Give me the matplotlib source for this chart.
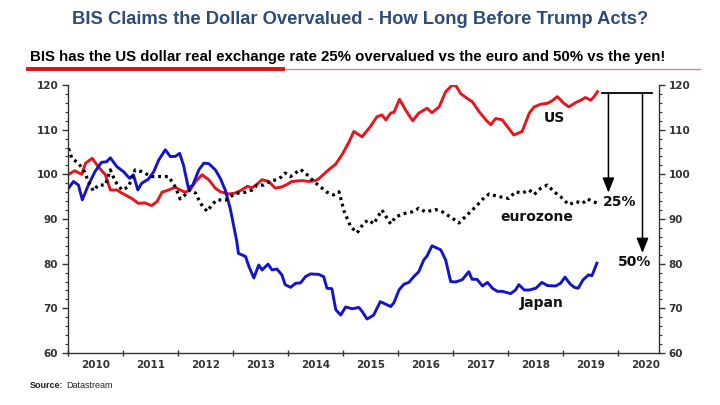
import matplotlib
matplotlib.use("Agg")
import matplotlib.pyplot as plt
from matplotlib.ticker import MultipleLocator, FixedLocator, NullFormatter
from matplotlib.lines import Line2D

# real exchange rate indices (decimal years)
us_t = [2010.01, 2010.12, 2010.25, 2010.32, 2010.44, 2010.55, 2010.68, 2010.77, 2010.89, 2010.98,
        2011.07, 2011.16, 2011.28, 2011.40, 2011.52, 2011.62, 2011.71, 2011.83, 2011.95, 2012.04,
        2012.13, 2012.22, 2012.32, 2012.44, 2012.56, 2012.68, 2012.77, 2012.92, 2013.04, 2013.16,
        2013.26, 2013.35, 2013.44, 2013.53, 2013.65, 2013.77, 2013.89, 2013.98, 2014.07, 2014.26,
        2014.38, 2014.50, 2014.56, 2014.74, 2014.87, 2014.99, 2015.11, 2015.20, 2015.35, 2015.50,
        2015.62, 2015.71, 2015.78, 2015.87, 2015.93, 2016.03, 2016.14, 2016.27, 2016.38, 2016.53,
        2016.62, 2016.75, 2016.87, 2016.99, 2017.06, 2017.14, 2017.26, 2017.35, 2017.48, 2017.60,
        2017.69, 2017.78, 2017.90, 2017.99, 2018.11, 2018.26, 2018.39, 2018.48, 2018.60, 2018.72,
        2018.81, 2018.90, 2019.02, 2019.11, 2019.24, 2019.33, 2019.41, 2019.51, 2019.57, 2019.63]
us_v = [100.0, 100.8, 100.0, 102.5, 103.6, 101.7, 99.9, 96.5, 96.5, 95.8,
        95.2, 94.6, 93.5, 93.6, 93.0, 93.9, 96.0, 96.5, 97.1, 96.5,
        96.0, 96.5, 98.4, 99.9, 98.8, 96.9, 96.1, 95.6, 95.8, 96.5,
        97.3, 97.0, 97.8, 98.8, 98.4, 96.9, 97.2, 97.7, 98.4, 98.6,
        98.4, 98.6, 99.0, 101.0, 102.3, 104.5, 107.2, 109.6, 108.4, 110.7,
        112.9, 113.3, 112.2, 113.7, 113.9, 116.8, 114.4, 112.0, 113.7, 114.8,
        113.8, 115.1, 118.5, 120.0, 119.8, 118.1, 117.0, 116.3, 114.0, 112.2,
        111.1, 112.5, 112.2, 110.7, 108.8, 109.6, 113.7, 115.1, 115.7, 115.9,
        116.5, 117.4, 115.9, 115.1, 116.1, 116.6, 117.2, 116.6, 117.4, 118.5]

ez_t = [2010.01, 2010.07, 2010.19, 2010.30, 2010.37, 2010.46, 2010.55, 2010.68, 2010.77, 2010.86,
        2010.98, 2011.10, 2011.22, 2011.34, 2011.52, 2011.65, 2011.83, 2011.95, 2012.04, 2012.13,
        2012.22, 2012.32, 2012.41, 2012.53, 2012.62, 2012.71, 2012.86, 2012.98, 2013.10, 2013.23,
        2013.35, 2013.44, 2013.56, 2013.68, 2013.80, 2013.89, 2013.95, 2014.05, 2014.17, 2014.23,
        2014.35, 2014.47, 2014.59, 2014.71, 2014.83, 2014.93, 2015.02, 2015.14, 2015.26, 2015.38,
        2015.47, 2015.56, 2015.71, 2015.87, 2015.96, 2016.14, 2016.26, 2016.38, 2016.50, 2016.69,
        2016.81, 2016.99, 2017.11, 2017.26, 2017.42, 2017.54, 2017.66, 2017.84, 2018.02, 2018.14,
        2018.26, 2018.39, 2018.48, 2018.60, 2018.72, 2018.84, 2018.96, 2019.11, 2019.24, 2019.36,
        2019.45, 2019.54, 2019.62]
ez_v = [105.8, 103.6, 102.5, 100.6, 98.4, 96.3, 97.6, 97.6, 101.0, 98.4,
        96.5, 97.2, 101.0, 100.6, 99.5, 99.5, 99.5, 97.2, 94.5, 95.4,
        96.5, 95.8, 93.5, 91.7, 93.2, 94.3, 94.2, 95.2, 95.8, 96.0,
        96.5, 97.6, 97.6, 98.5, 98.8, 99.5, 100.3, 99.5, 100.6, 101.1,
        99.9, 98.4, 97.2, 96.0, 95.4, 96.1, 91.8, 88.3, 86.9, 89.1,
        89.8, 88.9, 92.0, 88.9, 90.5, 91.3, 91.6, 92.4, 91.6, 92.1,
        91.6, 90.2, 89.1, 90.9, 92.8, 94.4, 95.6, 95.0, 94.6, 96.1,
        95.8, 96.5, 95.5, 96.9, 97.6, 96.1, 95.0, 93.2, 93.9, 93.5,
        94.5, 93.9, 93.6]

jp_t = [2010.01, 2010.10, 2010.19, 2010.26, 2010.37, 2010.49, 2010.61, 2010.70, 2010.77, 2010.89,
        2011.01, 2011.12, 2011.19, 2011.27, 2011.34, 2011.46, 2011.56, 2011.65, 2011.77, 2011.86,
        2011.95, 2012.03, 2012.10, 2012.19, 2012.27, 2012.38, 2012.47, 2012.56, 2012.68, 2012.77,
        2012.86, 2012.95, 2013.01, 2013.07, 2013.10, 2013.23, 2013.29, 2013.38, 2013.47, 2013.53,
        2013.64, 2013.71, 2013.80, 2013.89, 2013.95, 2014.05, 2014.14, 2014.23, 2014.32, 2014.41,
        2014.56, 2014.65, 2014.71, 2014.80, 2014.87, 2014.96, 2015.05, 2015.17, 2015.29, 2015.35,
        2015.44, 2015.56, 2015.68, 2015.87, 2015.93, 2016.02, 2016.11, 2016.20, 2016.29, 2016.38,
        2016.47, 2016.53, 2016.62, 2016.78, 2016.87, 2016.96, 2017.05, 2017.17, 2017.29, 2017.35,
        2017.44, 2017.54, 2017.63, 2017.72, 2017.81, 2017.90, 2018.05, 2018.14, 2018.20, 2018.30,
        2018.39, 2018.51, 2018.62, 2018.72, 2018.87, 2018.96, 2019.04, 2019.13, 2019.21, 2019.28,
        2019.37, 2019.47, 2019.53, 2019.62]
jp_v = [96.9, 98.4, 97.6, 94.3, 97.6, 100.6, 102.7, 102.8, 103.7, 101.7,
        100.6, 99.1, 99.9, 96.5, 98.0, 98.9, 100.6, 103.2, 105.5, 104.0,
        104.0, 104.7, 102.1, 96.9, 97.6, 101.0, 102.5, 102.4, 101.0, 99.1,
        96.5, 92.4, 88.7, 85.0, 82.3, 81.6, 79.4, 76.8, 79.7, 78.6,
        79.9, 78.6, 78.8, 77.5, 75.3, 74.7, 75.6, 75.7, 77.1, 77.7,
        77.6, 77.1, 74.5, 74.4, 69.7, 68.5, 70.3, 69.9, 70.2, 69.3,
        67.6, 68.5, 71.5, 70.4, 71.3, 74.1, 75.4, 75.8, 77.1, 78.2,
        80.8, 81.7, 84.0, 83.1, 80.8, 76.0, 75.9, 76.4, 78.2, 76.5,
        76.5, 75.0, 75.8, 74.5, 73.8, 73.8, 73.3, 74.1, 75.3, 74.1,
        74.1, 74.5, 75.8, 75.1, 75.0, 75.6, 77.0, 75.5, 74.7, 74.5,
        76.4, 77.5, 77.3, 80.1]

years = list(range(2010, 2021))
year_labels = [str(y) for y in years]

tick_color = "#333333"
plt.rcParams["font.family"] = ["DejaVu Sans"]

fig = plt.figure(figsize=(7.2, 4.05), dpi=100)
fig.patch.set_facecolor("white")
ax = fig.add_axes([68 / 720, 1 - 353 / 405, 591 / 720, 268 / 405])

ax.plot(us_t, us_v, color="#e8141c", lw=2.1, solid_joinstyle="round")
ax.plot(jp_t, jp_v, color="#1414cc", lw=2.1, solid_joinstyle="round")
ax.plot(ez_t, ez_v, color="black", lw=2.3, linestyle=(0, (0.9, 1.2)))

ax.set_xlim(2010, 2020.75)
ax.set_ylim(60, 120)

ax.spines["top"].set_visible(False)
for s in ["left", "bottom", "right"]:
    ax.spines[s].set_color(tick_color)
    ax.spines[s].set_linewidth(1.0)

ax.yaxis.set_major_locator(MultipleLocator(10))
ax.yaxis.set_minor_locator(MultipleLocator(2))
ax.tick_params(axis="y", which="major", direction="out", length=4, width=1,
               color=tick_color, labelcolor=tick_color, labelsize=7.5, pad=3,
               left=True, right=True, labelleft=True, labelright=True)
ax.tick_params(axis="y", which="minor", direction="out", length=2, width=0.8,
               color=tick_color, left=True, right=True)
for lab in ax.get_yticklabels():
    lab.set_fontweight("bold")

# year ticks at year starts, labels centred mid-year
ax.xaxis.set_major_locator(FixedLocator(years))
ax.xaxis.set_major_formatter(NullFormatter())
ax.xaxis.set_minor_locator(FixedLocator([y + 0.5 for y in years]))
ax.set_xticklabels(year_labels, minor=True)
ax.tick_params(axis="x", which="major", direction="inout", length=5, width=1, color=tick_color)
ax.tick_params(axis="x", which="minor", length=0, labelsize=7.5, labelcolor=tick_color, pad=5)
for lab in ax.get_xticklabels(minor=True):
    lab.set_fontweight("bold")

# annotations
lab_kw = dict(fontsize=10, fontweight="bold", color="#111111", ha="center", va="center")
ax.text(2018.84, 112.6, "US", **lab_kw)
ax.text(2018.52, 90.5, "eurozone", **lab_kw)
ax.text(2018.62, 71.2, "Japan", **lab_kw)
ax.text(2020.03, 93.8, "25%", **lab_kw)
ax.text(2020.30, 80.3, "50%", **lab_kw)

ax.add_line(Line2D([2019.72, 2020.63], [118.2, 118.2], color="black", lw=1.3, clip_on=False))
arrow_kw = dict(arrowstyle="-|>,head_length=0.9,head_width=0.36", color="black", lw=1.1,
                shrinkA=0, shrinkB=0)
ax.annotate("", xy=(2019.83, 95.9), xytext=(2019.83, 118.2), arrowprops=arrow_kw)
ax.annotate("", xy=(2020.45, 82.4), xytext=(2020.45, 118.2), arrowprops=arrow_kw)

# titles
fig.text(0.5, 1 - 19 / 405, "BIS Claims the Dollar Overvalued - How Long Before Trump Acts?",
         ha="center", va="center", fontsize=13.2, fontweight="bold", color="#2e4b7a",
         family=["Liberation Sans", "DejaVu Sans"])
fig.text(30 / 720, 1 - 57 / 405,
         "BIS has the US dollar real exchange rate 25% overvalued vs the euro and 50% vs the yen!",
         ha="left", va="center", fontsize=10.8, fontweight="bold", color="black",
         family=["Liberation Sans", "DejaVu Sans"])
fig.add_artist(Line2D([28 / 720, 700 / 720], [1 - 68.5 / 405] * 2, color="#c98c8c", lw=1.0))
fig.add_artist(Line2D([28 / 720, 283 / 720], [1 - 68.5 / 405] * 2, color="#e01010", lw=2.8))

fig.text(30 / 720, 1 - 385 / 405, "Source:", ha="left", va="center", fontsize=6.5,
         fontweight="bold", color="#222222", family=["Liberation Sans", "DejaVu Sans"])
fig.text(66 / 720, 1 - 385 / 405, "Datastream", ha="left", va="center", fontsize=6.5,
         color="#222222", family=["Liberation Sans", "DejaVu Sans"])

fig.savefig("out.png", dpi=100, facecolor="white")
